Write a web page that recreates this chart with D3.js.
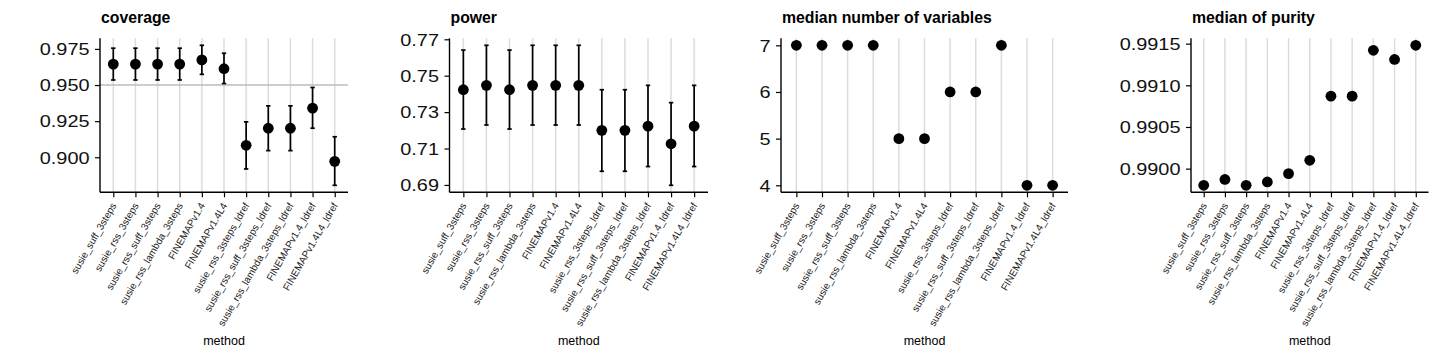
<!DOCTYPE html>
<html><head><meta charset="utf-8">
<script src="https://cdn.jsdelivr.net/npm/d3@7"></script>
<style>
html,body{margin:0;padding:0;background:#fff;}
text{font-family:"Liberation Sans",Arial,Helvetica,sans-serif;}
</style></head>
<body><svg id="c" width="1440" height="360"></svg>
<script>
const methods = ["susie_suff_3steps","susie_rss_3steps","susie_rss_suff_3steps","susie_rss_lambda_3steps","FINEMAPv1.4","FINEMAPv1.4L4","susie_rss_3steps_ldref","susie_rss_suff_3steps_ldref","susie_rss_lambda_3steps_ldref","FINEMAPv1.4_ldref","FINEMAPv1.4L4_ldref"];

const coverage   = [0.9645,0.9645,0.9645,0.9645,0.9674,0.9613,0.9083,0.9201,0.9201,0.9340,0.8972];
const coverageLo = [0.9535,0.9535,0.9535,0.9535,0.9574,0.9510,0.8919,0.9046,0.9046,0.9201,0.8806];
const coverageHi = [0.9755,0.9755,0.9755,0.9755,0.9775,0.9720,0.9245,0.9356,0.9356,0.9483,0.9142];

const power   = [0.7423,0.7447,0.7423,0.7447,0.7447,0.7447,0.7200,0.7200,0.7223,0.7126,0.7223];
const powerLo = [0.7207,0.7229,0.7207,0.7229,0.7229,0.7229,0.6975,0.6975,0.7001,0.6898,0.7001];
const powerHi = [0.7641,0.7667,0.7641,0.7667,0.7667,0.7667,0.7423,0.7423,0.7447,0.7352,0.7447];

const nVariables = [7,7,7,7,5,5,6,6,7,4,4];

const purity = [0.98980,0.98987,0.98980,0.98984,0.98994,0.99010,0.99087,0.99087,0.99142,0.99131,0.99148];

const coverageTicks = [0.900,0.925,0.950,0.975];
const powerTicks = [0.69,0.71,0.73,0.75,0.77];
const nVarTicks = [4,5,6,7];
const purityTicks = [0.9900,0.9905,0.9910,0.9915];
const coverageRef = 0.95;

const panels = [
  {title:"coverage", v:coverage, lo:coverageLo, hi:coverageHi, ticks:coverageTicks, fmt:d3.format(".3f"), ref:coverageRef, x0:100, x1:348},
  {title:"power", v:power, lo:powerLo, hi:powerHi, ticks:powerTicks, fmt:d3.format(".2f"), x0:449.5, x1:708},
  {title:"median number of variables", v:nVariables, ticks:nVarTicks, fmt:d3.format("d"), x0:781, x1:1068},
  {title:"median of purity", v:purity, ticks:purityTicks, fmt:d3.format(".4f"), x0:1191, x1:1428.5}
];

const svg = d3.select("#c");
const yTop = 38.3, yBot = 192.3;
const sx = 1.17;

panels.forEach(p => {
  const g = svg.append("g");
  const all = p.v.concat(p.lo||[], p.hi||[]);
  let mn = d3.min(all), mx = d3.max(all);
  const pad = (mx-mn)*0.05;
  const y = d3.scaleLinear().domain([mn-pad, mx+pad]).range([yBot, yTop]);
  const x = d3.scalePoint().domain(methods).range([p.x0, p.x1]).padding(0.6);

  // grid
  g.selectAll(".grid").data(methods).enter().append("line")
    .attr("x1", d=>x(d)).attr("x2", d=>x(d))
    .attr("y1", yTop).attr("y2", yBot)
    .attr("stroke", "#dcdcdc").attr("stroke-width", 1.5);

  if (p.ref !== undefined) {
    g.append("line").attr("x1", p.x0).attr("x2", p.x1)
      .attr("y1", y(p.ref)).attr("y2", y(p.ref))
      .attr("stroke", "#bdbdbd").attr("stroke-width", 1.5);
  }

  // y axis
  const ya = g.append("g").attr("transform", `translate(${p.x0},0)`)
    .call(d3.axisLeft(y).tickValues(p.ticks).tickFormat(p.fmt).tickSize(5).tickPadding(5));
  ya.select(".domain").attr("d", `M0,${yTop}V${yBot}`).attr("stroke", "#000").attr("stroke-width", 1.4);
  ya.selectAll(".tick line").attr("stroke", "#000").attr("stroke-width", 1.2);
  ya.selectAll(".tick text").attr("font-size", 17).attr("fill", "#111")
    .attr("font-family", "'Liberation Sans',Arial,sans-serif")
    .attr("x", -10.5/sx).attr("dy", "0.34em")
    .attr("transform", `scale(${sx},1)`);

  // x axis
  const xa = g.append("g").attr("transform", `translate(0,${yBot})`)
    .call(d3.axisBottom(x).tickSize(5).tickSizeOuter(0));
  xa.select(".domain").attr("d", `M${p.x0},0H${p.x1}`).attr("stroke", "#000").attr("stroke-width", 1.4);
  xa.selectAll(".tick line").attr("stroke", "#000").attr("stroke-width", 1.2);
  xa.selectAll(".tick text")
    .attr("font-size", 10).attr("fill", "#222")
    .attr("font-family", "'Liberation Sans',Arial,sans-serif")
    .attr("text-anchor", "end")
    .attr("y", 0).attr("dy", 0)
    .attr("transform", "translate(3,13) rotate(-60)");

  // error bars
  if (p.lo) {
    const eb = g.selectAll(".eb").data(methods).enter().append("g");
    eb.append("line").attr("x1", d=>x(d)).attr("x2", d=>x(d))
      .attr("y1", (d,i)=>y(p.lo[i])).attr("y2", (d,i)=>y(p.hi[i]))
      .attr("stroke", "#000").attr("stroke-width", 1.7);
    eb.append("line").attr("x1", d=>x(d)-2.2).attr("x2", d=>x(d)+2.2)
      .attr("y1", (d,i)=>y(p.lo[i])).attr("y2", (d,i)=>y(p.lo[i]))
      .attr("stroke", "#000").attr("stroke-width", 1.7);
    eb.append("line").attr("x1", d=>x(d)-2.2).attr("x2", d=>x(d)+2.2)
      .attr("y1", (d,i)=>y(p.hi[i])).attr("y2", (d,i)=>y(p.hi[i]))
      .attr("stroke", "#000").attr("stroke-width", 1.7);
  }

  g.selectAll(".pt").data(methods).enter().append("circle")
    .attr("cx", d=>x(d)).attr("cy", (d,i)=>y(p.v[i])).attr("r", 5.4).attr("fill", "#000");

  g.append("text").attr("x", p.x0+1).attr("y", 22.5)
    .attr("font-size", 15.8).attr("font-weight", "bold").attr("fill", "#000").text(p.title);

  g.append("text").attr("x", (p.x0+p.x1)/2).attr("y", 345)
    .attr("text-anchor", "middle").attr("font-size", 12.5).attr("fill", "#000").text("method");
});
</script></body></html>
